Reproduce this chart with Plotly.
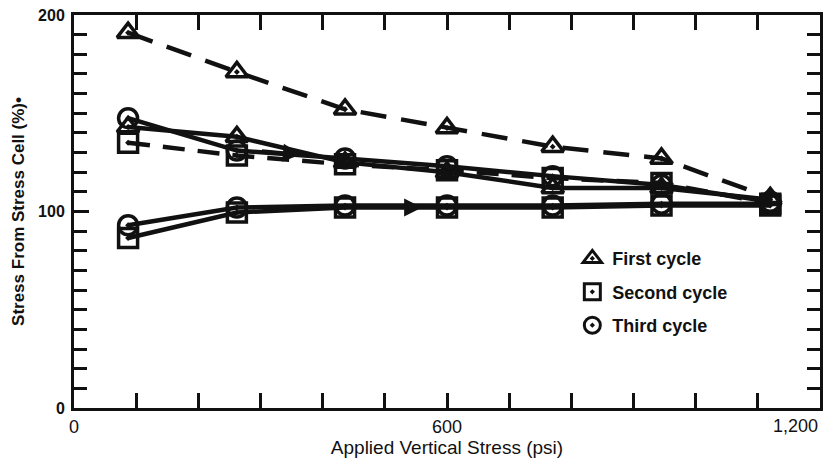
import plotly.graph_objects as go

# ---- data ----
stress_psi = [87, 262, 436, 600, 770, 945, 1120]

first_load = [191, 171, 152, 142.5, 133, 127, 107]      # triangles, dashed
first_unload = [143, 138, 125, 120, 112, 112, 106]      # triangles, solid
second_dash = [135, 128.5, 124, 121, 117, 114.5, 104]   # squares, dashed
third_solid = [147.5, 131, 127, 123, 118, 113.5, 105]   # circles, solid
second_low = [86.5, 99.5, 102, 102, 102, 103, 103]      # squares, solid (lower)
third_low = [93, 102, 103, 103, 103, 104, 104]          # circles, solid (lower)

legend_labels = ["First cycle", "Second cycle", "Third cycle"]
x_tickvals = [0, 600, 1200]
x_ticktext = ["0", "600", ""]
x_last_label = "1,200"
y_tickvals = [0, 100, 200]

BLACK = "#111111"
FONT = "Liberation Sans"
TRI = "triangle-up-open-dot"
SQ = "square-open-dot"
CIR = "circle-open-dot"

fig = go.Figure()


def add_series(y, symbol, dash):
    fig.add_trace(go.Scatter(
        x=stress_psi, y=y, mode="lines+markers", showlegend=False,
        line=dict(color=BLACK, width=4.5, dash=dash),
        marker=dict(symbol=symbol, size=19, color=BLACK,
                    line=dict(color=BLACK, width=3.5)),
    ))


add_series(second_low, SQ, "solid")
add_series(third_low, CIR, "solid")
add_series(second_dash, SQ, "22px,13px")
add_series(first_unload, TRI, "solid")
add_series(third_solid, CIR, "solid")
add_series(first_load, TRI, "26px,15px")

for lab, sym in zip(legend_labels, [TRI, SQ, CIR]):
    fig.add_trace(go.Scatter(
        x=[None], y=[None], mode="markers", name=lab, legendgroup=lab,
        marker=dict(symbol=sym, size=16, color=BLACK,
                    line=dict(color=BLACK, width=3)),
    ))

# direction arrows
fig.add_annotation(x=560, y=102, ax=470, ay=102, xref="x", yref="y",
                   axref="x", ayref="y", text="", showarrow=True,
                   arrowhead=2, arrowsize=1.2, arrowwidth=3, arrowcolor=BLACK)
fig.add_annotation(x=365, y=129, ax=300, ay=131, xref="x", yref="y",
                   axref="x", ayref="y", text="", showarrow=True,
                   arrowhead=2, arrowsize=1.2, arrowwidth=3, arrowcolor=BLACK)

# last x tick label, right-aligned at the axis end (as in the reference)
fig.add_annotation(x=x_tickvals[-1], y=0, xref="x", yref="paper",
                   text=x_last_label, showarrow=False,
                   xanchor="right", yanchor="top", yshift=-6,
                   font=dict(family=FONT, size=18, color=BLACK))

fig.update_layout(
    template="none",
    width=838, height=465,
    margin=dict(l=74, r=18, t=15, b=57),
    paper_bgcolor="white", plot_bgcolor="white",
    font=dict(family=FONT, size=15, color=BLACK),
    legend=dict(x=0.668, y=0.427, xanchor="left", yanchor="top",
                bgcolor="rgba(0,0,0,0)", tracegroupgap=7, itemwidth=30,
                font=dict(family=FONT, size=18, color=BLACK, weight="bold")),
    xaxis=dict(
        range=[0, 1200], tickvals=x_tickvals, ticktext=x_ticktext,
        ticks="inside", ticklen=15, tickwidth=2.5, tickcolor=BLACK,
        minor=dict(dtick=100, ticks="inside", ticklen=15, tickwidth=2.5,
                   tickcolor=BLACK, showgrid=False),
        showline=True, linecolor=BLACK, linewidth=3, mirror="ticks",
        showgrid=False, zeroline=False,
        tickfont=dict(family=FONT, size=18, color=BLACK),
        title=dict(text="Applied Vertical Stress (psi)",
                   font=dict(family=FONT, size=19, color=BLACK), standoff=2),
    ),
    yaxis=dict(
        range=[0, 200], tickvals=y_tickvals,
        ticks="inside", ticklen=15, tickwidth=2.5, tickcolor=BLACK,
        ticklabelstandoff=3,
        minor=dict(dtick=10, ticks="inside", ticklen=13, tickwidth=2.5,
                   tickcolor=BLACK, showgrid=False),
        showline=True, linecolor=BLACK, linewidth=3, mirror="ticks",
        showgrid=False, zeroline=False,
        tickfont=dict(family=FONT, size=16, color=BLACK, weight="bold"),
        title=dict(text="Stress From Stress Cell (%)•",
                   font=dict(family=FONT, size=17, color=BLACK, weight="bold"),
                   standoff=10),
    ),
)

fig.write_html("out.html")
